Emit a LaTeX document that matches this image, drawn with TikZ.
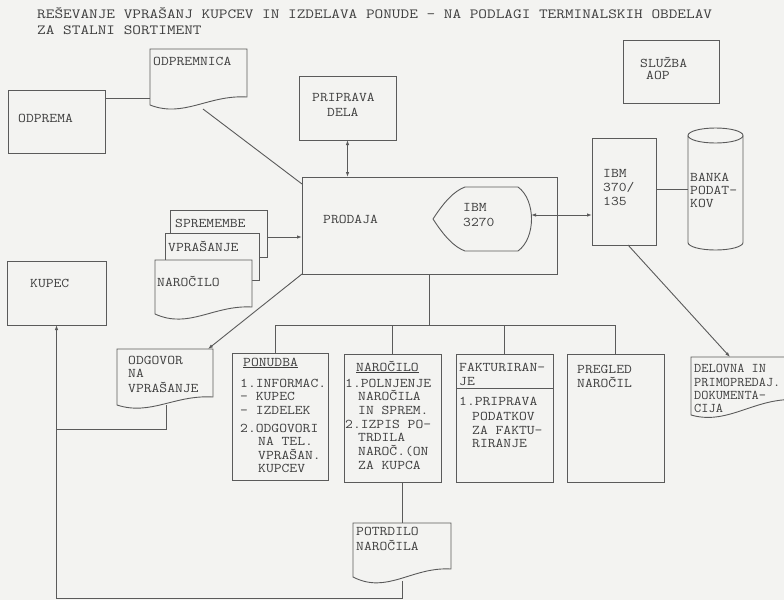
\documentclass[tikz,border=0pt]{standalone}
\usepackage{fontspec}
\usetikzlibrary{arrows.meta}
\definecolor{bgc}{HTML}{F3F3F1}
\definecolor{linec}{HTML}{5A5A5A}
\definecolor{textc}{HTML}{3E3E3E}
\newcommand\docshape[7]{%
  \node[inner sep=0pt,outer sep=0pt,anchor=north west,minimum width={(#4-#2)*1pt},minimum height={(#6-#3)*1pt}] (#1) at (#2,#3) {};
  \draw[ln,fill=bgc] (#2,#3) -- (#4,#3) -- (#4,#5) .. controls ({#2+0.6*(#4-#2)},{#5-0.3*(#6-#5)}) and ({#2+0.35*(#4-#2)},{#6+2.2*(#7-#6)}) .. (#2,#6) -- cycle;}
\begin{document}
\begin{tikzpicture}[x=1pt,y=-1pt,
  ln/.style={draw=linec,line width=0.9pt},
  arr/.style={ln,-{Latex[length=5pt,width=3.5pt]}},
  darr/.style={ln,{Latex[length=5pt,width=3.5pt]}-{Latex[length=5pt,width=3.5pt]}},
  txt/.style={font=\ttfamily\fontsize{13.3}{14}\selectfont,text=textc,inner sep=0pt,anchor=base west,xscale=1.14,transform shape},
  ttl/.style={font=\ttfamily\fontsize{14}{15}\selectfont,text=textc,inner sep=0pt,anchor=base west,xscale=1.2,transform shape},
  rect/.style={draw=linec,line width=0.9pt,inner sep=0pt,outer sep=0pt,anchor=north west}]
\fill[bgc] (0,0) rectangle (784,600);
\useasboundingbox (0,0) rectangle (784,600);

% title
\node[ttl] (title1) at (37,18) {REŠEVANJE VPRAŠANJ KUPCEV IN IZDELAVA PONUDE - NA PODLAGI TERMINALSKIH OBDELAV};
\node[ttl] (title2) at (37,34) {ZA STALNI SORTIMENT};

% boxes
\node[rect,minimum width=97pt,minimum height=63pt] (odprema) at (8,90) {};
\node[rect,minimum width=97pt,minimum height=64pt] (pripravadela) at (299,76) {};
\node[rect,minimum width=255pt,minimum height=97pt] (prodaja) at (302,177) {};
\node[rect,minimum width=96pt,minimum height=63pt] (sluzba) at (623,40) {};
\node[rect,minimum width=64pt,minimum height=107pt] (ibm370) at (592,138) {};
\node[rect,minimum width=99pt,minimum height=64pt] (kupec) at (7,261) {};
\node[rect,minimum width=96pt,minimum height=127pt] (ponudba) at (232,353) {};
\node[rect,minimum width=97pt,minimum height=128pt] (narocilo) at (344,354) {};
\node[rect,minimum width=97pt,minimum height=128pt] (fakt) at (456,354) {};
\node[rect,minimum width=97pt,minimum height=128pt] (pregled) at (567,354) {};
\draw[ln] (fakt.west |- 0,388) -- (fakt.east |- 0,388);

% documents
\docshape{odpremnica}{150}{49}{247}{97}{105}{111}
\node[rect,fill=bgc,minimum width=97pt,minimum height=47pt] (spremembe) at (170,210) {};
\node[rect,fill=bgc,minimum width=94pt,minimum height=47pt] (vprasanje) at (165,233) {};
\docshape{narocilodoc}{155}{260}{252}{307}{314}{321}
\docshape{odgovor}{117}{349}{213}{397}{405}{410}
\docshape{potrdilo}{353}{523}{451}{569}{577}{585}
\docshape{delovna}{691}{357}{800}{400}{415}{420}

% IBM 3270 display
\draw[ln] (433,219) .. controls (444,202) and (454,191) .. (465,187) -- (518,187)
  .. controls (536,200) and (536,238) .. (518,251) -- (465,251)
  .. controls (454,247) and (444,236) .. (433,219);
\coordinate (ibm3270E) at (531,215);

% database cylinder
\draw[ln] (688,135.5) -- (688,242.5) arc[start angle=180,end angle=360,x radius=27.5,y radius=-7.5] -- (743,135.5);
\draw[ln] (715.5,135.5) ellipse[x radius=27.5,y radius=7.5];
\coordinate (bankaW) at (688,189);

% connectors
\draw[ln] ([yshift=-8pt]odprema.north east) -- ([yshift=-8pt]odprema.north east -| odpremnica.west);
\coordinate (odpB) at (203,109);
\draw[ln] (odpB) -- ([yshift=-7pt]prodaja.north west);
\draw[darr] (pripravadela.south) -- (pripravadela.south |- prodaja.north);
\coordinate (stackE) at (267,237);
\draw[arr] (stackE) -- (stackE -| prodaja.west);
\draw[arr] (prodaja.south west) -- ([xshift=-5pt]odgovor.north east);
\draw[darr] (ibm3270E) -- (ibm3270E -| ibm370.west);
\draw[ln] (bankaW -| ibm370.east) -- (bankaW);
\draw[arr] ([xshift=4pt]ibm370.south) -- ([xshift=39pt]delovna.north west);
\coordinate (bus) at (430,325);
\draw[ln] (prodaja.south) -- (prodaja.south |- bus);
\draw[ln] ([xshift=-5pt]ponudba.north) |- (pregled.north |- bus) -- (pregled.north);
\draw[ln] (narocilo.north) -- (narocilo.north |- bus);
\draw[ln] (fakt.north) -- (fakt.north |- bus);
\draw[ln] ([xshift=10pt]narocilo.south) -- ([xshift=10pt]narocilo.south |- potrdilo.north);
\coordinate (potB) at (402.5,581);
\draw[arr] (potB) |- ([yshift=-273pt]kupec.south) -- (kupec.south);
\coordinate (odgB) at (166,405);
\coordinate (odgJ) at (166,429);
\draw[ln] (odgB) -- (odgJ) -- (kupec.south |- odgJ);

% texts
\node[txt] (t-odpremnica) at (153,65) {ODPREMNICA};
\node[txt] (t-odprema) at (18,122) {ODPREMA};
\node[txt] (t-prip1) at (312,101) {PRIPRAVA};
\node[txt] (t-prip2) at (327,116) {DELA};
\node[txt] (t-prodaja) at (323,223) {PRODAJA};
\node[txt] (t-ibm1) at (463,211) {IBM};
\node[txt] (t-ibm2) at (463,226) {3270};
\node[txt] (t-sl1) at (640,67) {SLUŽBA};
\node[txt] (t-sl2) at (646,79) {AOP};
\node[txt] (t-i1) at (603,177) {IBM};
\node[txt] (t-i2) at (603,191) {370/};
\node[txt] (t-i3) at (603,205) {135};
\node[txt] (t-b1) at (690,181) {BANKA};
\node[txt] (t-b2) at (690,194) {PODAT-};
\node[txt] (t-b3) at (690,207) {KOV};
\node[txt] (t-spr) at (175,227) {SPREMEMBE};
\node[txt] (t-vpr) at (168,251) {VPRAŠANJE};
\node[txt] (t-nar) at (157,286) {NAROČILO};
\node[txt] (t-kupec) at (30,287) {KUPEC};
\node[txt] (t-o1) at (128,364) {ODGOVOR};
\node[txt] (t-o2) at (128,377) {NA};
\node[txt] (t-o3) at (128,392) {VPRAŠANJE};
\node[txt] (t-p0) at (243,366) {\underline{PONUDBA}};
\node[txt] (t-p1) at (240,387) {1.INFORMAC.};
\node[txt] (t-p2) at (240,400) {- KUPEC};
\node[txt] (t-p3) at (240,414) {- IZDELEK};
\node[txt] (t-p4) at (240,432) {2.ODGOVORI};
\node[txt] (t-p5) at (258,445) {NA TEL.};
\node[txt] (t-p6) at (258,459) {VPRAŠAN.};
\node[txt] (t-p7) at (258,472) {KUPCEV};
\node[txt] (t-n0) at (356,371) {\underline{NAROČILO}};
\node[txt] (t-n1) at (345,387) {1.POLNJENJE};
\node[txt] (t-n2) at (358,400) {NAROČILA};
\node[txt] (t-n3) at (358,414) {IN SPREM.};
\node[txt] (t-n4) at (345,428) {2.IZPIS PO-};
\node[txt] (t-n5) at (358,441) {TRDILA};
\node[txt] (t-n6) at (358,455) {NAROČ.(ON};
\node[txt] (t-n7) at (358,469) {ZA KUPCA};
\node[txt] (t-f1) at (459,371) {FAKTURIRAN-};
\node[txt] (t-f2) at (459,385) {JE};
\node[txt] (t-f3) at (459,405) {1.PRIPRAVA};
\node[txt] (t-f4) at (472,420) {PODATKOV};
\node[txt] (t-f5) at (472,434) {ZA FAKTU-};
\node[txt] (t-f6) at (472,447) {RIRANJE};
\node[txt] (t-g1) at (577,373) {PREGLED};
\node[txt] (t-g2) at (577,387) {NAROČIL};
\node[txt,xscale=0.92] (t-d1) at (694,372) {DELOVNA IN};
\node[txt,xscale=0.92] (t-d2) at (694,386) {PRIMOPREDAJ.};
\node[txt,xscale=0.92] (t-d3) at (694,399) {DOKUMENTA-};
\node[txt,xscale=0.92] (t-d4) at (694,412) {CIJA};
\node[txt] (t-pt1) at (356,535) {POTRDILO};
\node[txt] (t-pt2) at (356,550) {NAROČILA};
\end{tikzpicture}
\end{document}
